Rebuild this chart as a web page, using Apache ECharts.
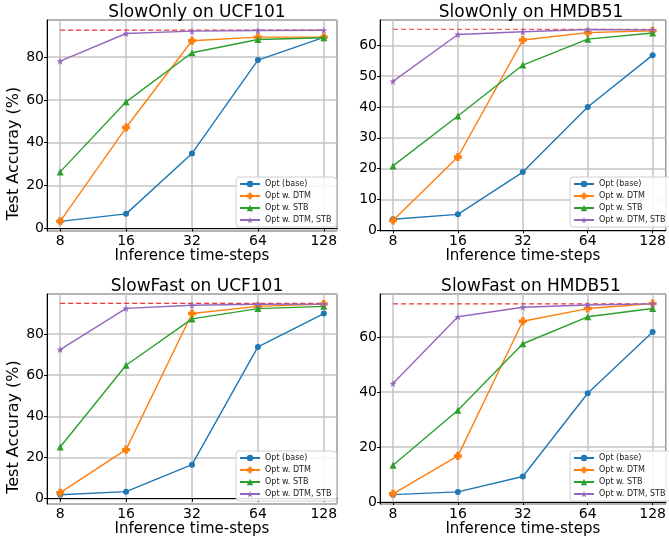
<!DOCTYPE html>
<html>
<head>
<meta charset="utf-8">
<script src="https://cdn.jsdelivr.net/npm/echarts@6/dist/echarts.min.js"></script>
<style>
  html, body { margin: 0; padding: 0; background: #fff; }
  #main { width: 669px; height: 543px; }
</style>
</head>
<body>
<div id="main"></div>
<script>
// inference time-steps (x axis, log2 scale)
var steps = [8, 16, 32, 64, 128];
var seriesNames = ['Opt (base)', 'Opt w. DTM', 'Opt w. STB', 'Opt w. DTM, STB'];
var titles = ['SlowOnly on UCF101', 'SlowOnly on HMDB51', 'SlowFast on UCF101', 'SlowFast on HMDB51'];

// SlowOnly on UCF101
var soUcfBase = [3.3, 6.8, 35.0, 78.6, 89.2];
var soUcfDtm  = [3.3, 47.1, 87.6, 89.3, 89.3];
var soUcfStb  = [26.4, 59.1, 82.0, 88.2, 89.0];
var soUcfBoth = [78.1, 91.0, 92.1, 92.4, 92.5];
var soUcfFull = 92.6;

// SlowOnly on HMDB51
var soHmdbBase = [3.6, 5.2, 18.9, 40.0, 56.8];
var soHmdbDtm  = [3.2, 23.8, 61.7, 64.1, 64.7];
var soHmdbStb  = [20.9, 37.1, 53.6, 62.0, 64.0];
var soHmdbBoth = [48.3, 63.5, 64.4, 65.1, 65.0];
var soHmdbFull = 65.2;

// SlowFast on UCF101
var sfUcfBase = [1.9, 3.4, 16.5, 73.7, 89.9];
var sfUcfDtm  = [2.9, 23.8, 89.9, 93.4, 94.5];
var sfUcfStb  = [25.1, 64.8, 87.3, 92.3, 93.4];
var sfUcfBoth = [72.4, 92.4, 93.9, 94.4, 94.5];
var sfUcfFull = 94.8;

// SlowFast on HMDB51
var sfHmdbBase = [2.7, 3.7, 9.3, 39.6, 61.9];
var sfHmdbDtm  = [3.0, 16.8, 65.8, 70.4, 72.2];
var sfHmdbStb  = [13.4, 33.4, 57.6, 67.4, 70.4];
var sfHmdbBoth = [43.1, 67.4, 70.9, 71.7, 72.1];
var sfHmdbFull = 72.1;

var panelData = [
    [soUcfBase, soUcfDtm, soUcfStb, soUcfBoth],
    [soHmdbBase, soHmdbDtm, soHmdbStb, soHmdbBoth],
    [sfUcfBase, sfUcfDtm, sfUcfStb, sfUcfBoth],
    [sfHmdbBase, sfHmdbDtm, sfHmdbStb, sfHmdbBoth]
];
var panelFull = [soUcfFull, soHmdbFull, sfUcfFull, sfHmdbFull];

// layout of the four axes (pixels) and y ranges
var grids = [
    {left: 47, top: 20, width: 290, height: 211},
    {left: 380, top: 20, width: 292, height: 211},
    {left: 47, top: 294, width: 290, height: 210},
    {left: 380, top: 294, width: 292, height: 210}
];
var legendPos = [[236, 177], [570, 177], [236, 451], [570, 451]];
var yRanges = [[-1.2, 97.3], [-0.2, 68.2], [-2.6, 99.4], [-0.7, 75.7]];
var ySplits = [5, 7, 5, 4];

var colors = ['#1f77b4', '#ff7f0e', '#2ca02c', '#9467bd'];
// filled plus ("P") and small star markers
var plusPath = 'path://M-1.3,-3L1.3,-3L1.3,-1.3L3,-1.3L3,1.3L1.3,1.3L1.3,3L-1.3,3L-1.3,1.3L-3,1.3L-3,-1.3L-1.3,-1.3Z';
var starPath = 'path://M0,-10L2.35,-3.24L9.51,-3.09L3.8,1.24L5.88,8.09L0,4L-5.88,8.09L-3.8,1.24L-9.51,-3.09L-2.35,-3.24Z';
var symbols = ['circle', plusPath, 'triangle', starPath];
var symbolSizes = [6, 8, 7, 7];

var FONT = 'DejaVu Sans';

var myChart = echarts.init(document.getElementById('main'));

var option = {
    backgroundColor: '#fff',
    animation: false,
    textStyle: {fontFamily: FONT},
    title: [],
    legend: [],
    grid: [],
    xAxis: [],
    yAxis: [],
    series: []
};

for (var p = 0; p < 4; p++) {
    var g = grids[p];
    option.grid.push({
        left: g.left, top: g.top, width: g.width, height: g.height,
        show: true, borderColor: '#000', borderWidth: 1
    });
    option.title.push({
        text: titles[p],
        left: g.left + g.width / 2,
        top: g.top - 21,
        textAlign: 'center',
        textStyle: {fontFamily: FONT, fontSize: 17, fontWeight: 'normal', color: '#000'}
    });
    option.xAxis.push({
        type: 'log',
        logBase: 2,
        gridIndex: p,
        min: Math.pow(2, 2.8),
        max: Math.pow(2, 7.2),
        splitNumber: 5,
        name: 'Inference time-steps',
        nameLocation: 'middle',
        nameGap: 10,
        nameTextStyle: {fontFamily: FONT, fontSize: 15, color: '#000'},
        axisLine: {show: true, lineStyle: {color: '#000', width: 1}},
        axisTick: {show: true, length: 3, lineStyle: {color: '#000'}},
        axisLabel: {
            fontFamily: FONT, fontSize: 14, color: '#000', margin: 3,
            showMinLabel: false, showMaxLabel: false,
            formatter: function (v) { return String(Math.round(v)); }
        },
        minorTick: {show: false},
        splitLine: {show: true, lineStyle: {color: '#c4c4c4', width: 1.5}}
    });
    option.yAxis.push({
        type: 'value',
        gridIndex: p,
        min: yRanges[p][0],
        max: yRanges[p][1],
        splitNumber: ySplits[p],
        name: (p % 2 === 0) ? 'Test Accuray (%)' : '',
        nameLocation: 'middle',
        nameGap: 21,
        // right padding pushes the rotated label down a bit, like the original
        nameTextStyle: {fontFamily: FONT, fontSize: 16, color: '#000', padding: [0, 56, 0, 0]},
        axisLine: {show: true, lineStyle: {color: '#000', width: 1}},
        axisTick: {show: true, length: 3, lineStyle: {color: '#000'}},
        axisLabel: {
            fontFamily: FONT, fontSize: 14, color: '#000', margin: 3,
            showMinLabel: false, showMaxLabel: false
        },
        splitLine: {show: true, lineStyle: {color: '#c4c4c4', width: 1.5}}
    });
    option.legend.push({
        data: seriesNames,
        orient: 'vertical',
        left: legendPos[p][0],
        top: legendPos[p][1],
        itemWidth: 20,
        itemHeight: 8,
        itemGap: 4,
        padding: [3, 5, 3, 3],
        backgroundColor: 'rgba(255,255,255,0.85)',
        borderColor: '#d0d0d0',
        borderWidth: 1,
        borderRadius: 3,
        textStyle: {fontFamily: FONT, fontSize: 8, color: '#222'}
    });

    var rows = panelData[p];
    for (var s = 0; s < 4; s++) {
        var pts = [];
        for (var i = 0; i < steps.length; i++) pts.push([steps[i], rows[s][i]]);
        option.series.push({
            name: seriesNames[s],
            type: 'line',
            xAxisIndex: p,
            yAxisIndex: p,
            data: pts,
            color: colors[s],
            symbol: symbols[s],
            symbolSize: symbolSizes[s],
            showSymbol: true,
            lineStyle: {width: 1.4, color: colors[s]},
            itemStyle: {color: colors[s]},
            z: 3 + s
        });
    }
    // red dashed reference line
    option.series.push({
        name: 'full',
        type: 'line',
        xAxisIndex: p,
        yAxisIndex: p,
        data: [[steps[0], panelFull[p]], [steps[steps.length - 1], panelFull[p]]],
        symbol: 'none',
        lineStyle: {color: '#f03030', width: 1.2, type: [5, 3]},
        z: 2
    });
}

myChart.setOption(option);
</script>
</body>
</html>
